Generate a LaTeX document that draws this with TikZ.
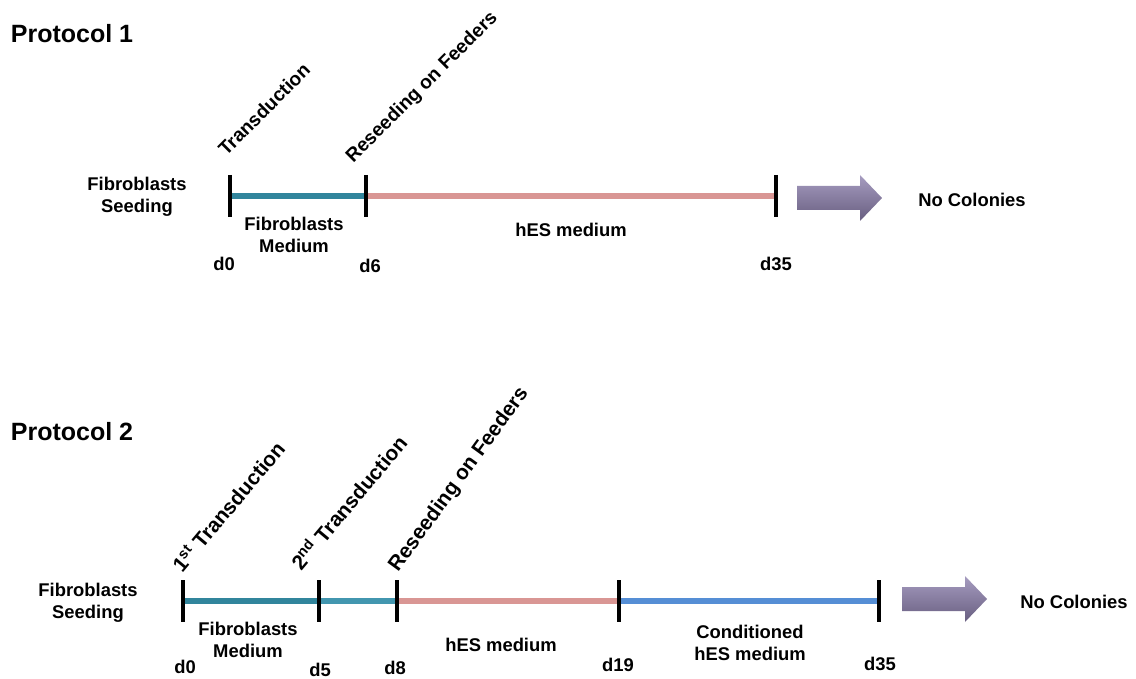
\documentclass[tikz,border=0pt]{standalone}
\usepackage{fontspec}
\setmainfont{Liberation Sans}
\usetikzlibrary{calc}

\definecolor{tealline}{RGB}{49,133,156}
\definecolor{tealline2}{RGB}{66,150,175}
\definecolor{pinkline}{RGB}{217,150,148}
\definecolor{blueline}{RGB}{85,142,213}
\definecolor{arrowtop}{RGB}{166,156,192}
\definecolor{arrowbot}{RGB}{104,94,128}

\tikzset{
	title/.style={font=\bfseries\fontsize{12.5}{14}\selectfont},
	lab/.style={font=\bfseries\fontsize{9.2}{11}\selectfont,align=center,inner sep=0pt},
	event/.style={font=\bfseries\fontsize{9.6}{12}\selectfont,anchor=base west,inner sep=0pt},
	bigevent/.style={event,font=\bfseries\fontsize{10.4}{12}\selectfont},
	tick/.style={line width=1.6pt,black},
	period/.style={line width=2.6pt},
	colarrow/.style={top color=arrowtop,bottom color=arrowbot,draw=none}
}

\begin{document}
\begin{tikzpicture}[x=0.5pt,y=-0.5pt]
	\useasboundingbox(0,0)rectangle(1136,679);
	% Protocol 1
	\node[title](p1)at(72,34){Protocol 1};
	\coordinate(a0)at(230,196);
	\coordinate(a6)at(366,196);
	\coordinate(a35)at(776,196);
	\draw[period,tealline](a0)--(a6);
	\draw[period,pinkline](a6)--(a35);
	\foreach \t in {a0,a6,a35}
		\draw[tick]([yshift=10.5pt]\t)--([yshift=-10.5pt]\t);
	\node[event,rotate=45](tra1)at(226,157){Transduction};
	\node[event,rotate=45](res1)at(353,164){Reseeding on Feeders};
	\node[lab](fs1)at(137,197){Fibroblasts\\Seeding};
	\node[lab](fm1)at(294,235){Fibroblasts\\Medium};
	\node[lab](hes1)at(571,230){hES medium};
	\node[lab](d01)at(224,264){d0};
	\node[lab](d61)at(370,266){d6};
	\node[lab](d351)at(776,264){d35};
	\shade[colarrow](797,186)--(860,186)--(860,175)--(882,198)--(860,221)--(860,210)--(797,210)--cycle;
	\node[lab](nc1)at(972,200){No Colonies};
	% Protocol 2
	\node[title](p2)at(72,432){Protocol 2};
	\coordinate(b0)at(183,601);
	\coordinate(b5)at(319,601);
	\coordinate(b8)at(397,601);
	\coordinate(b19)at(619,601);
	\coordinate(b35)at(879,601);
	\draw[period,tealline](b0)--(b5);
	\draw[period,tealline2](b5)--(b8);
	\draw[period,pinkline](b8)--(b19);
	\draw[period,blueline](b19)--(b35);
	\foreach \t in {b0,b5,b8,b19,b35}
		\draw[tick]([yshift=10.5pt]\t)--([yshift=-10.5pt]\t);
	\node[bigevent,rotate=50](tra2)at(182,574){1\textsuperscript{st} Transduction};
	\node[bigevent,rotate=50](trb2)at(301,572){2\textsuperscript{nd} Transduction};
	\node[bigevent,rotate=54](res2)at(398,573){Reseeding on Feeders};
	\node[lab](fs2)at(88,603){Fibroblasts\\Seeding};
	\node[lab](fm2)at(248,640){Fibroblasts\\Medium};
	\node[lab](hes2)at(501,645){hES medium};
	\node[lab](cnd2)at(750,643){Conditioned\\hES medium};
	\node[lab](d02)at(185,667){d0};
	\node[lab](d52)at(320,670){d5};
	\node[lab](d82)at(395,668){d8};
	\node[lab](d192)at(618,665){d19};
	\node[lab](d352)at(880,664){d35};
	\shade[colarrow](902,587)--(965,587)--(965,576)--(987,599)--(965,622)--(965,611)--(902,611)--cycle;
	\node[lab](nc2)at(1074,602){No Colonies};
\end{tikzpicture}
\end{document}
